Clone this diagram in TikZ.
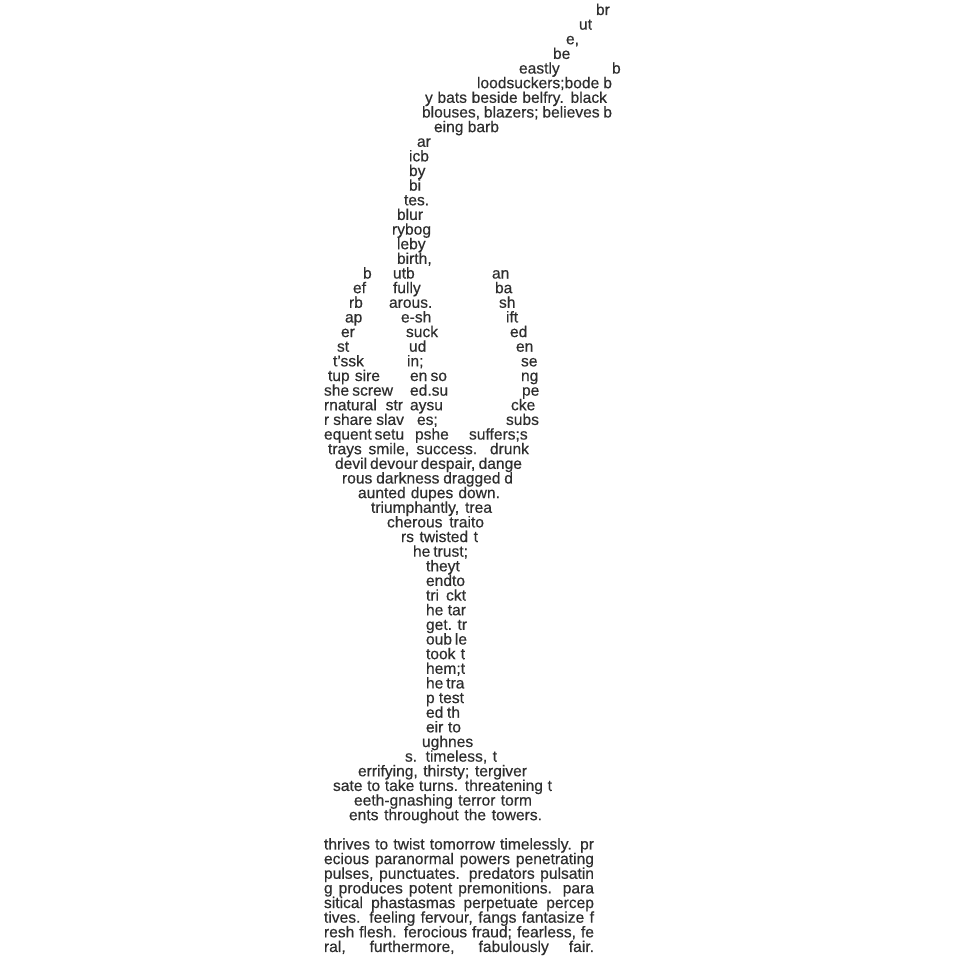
\documentclass[tikz,border=0pt]{standalone}
\usepackage{fontspec}
\setmainfont{Liberation Sans}
\newfontfamily\poemfont{Liberation Sans}[FakeBold=0.4]
\newcommand\pseg[3]{\node[txt] (s#1x#2) at (#2,{15+14.64*(#1-1)}) {#3};}
\newcommand\wseg[4]{\node[txt] (s#1x#2) at (#2,{15+14.64*(#1-1)}) {\makebox[#3pt][s]{#4}};}
\begin{document}
\begin{tikzpicture}[x=1pt,y=-1pt,
  txt/.style={anchor=base west, inner sep=0pt, outer sep=0pt,
    font=\poemfont\fontsize{15.6}{15}\selectfont, text=black!82}]
\fill[white] (0,0) rectangle (960,960);
\useasboundingbox (0,0) rectangle (960,960);
\pseg{1}{596}{br}
\pseg{2}{579}{ut}
\pseg{3}{566}{e,}
\pseg{4}{553}{be}
\pseg{5}{519}{eastly}
\pseg{5}{612}{b}
\wseg{6}{477}{135}{loodsuckers;bode b}
\wseg{7}{425}{182}{y bats beside belfry. black}
\wseg{8}{422}{190}{blouses, blazers; believes b}
\wseg{9}{434}{65}{eing barb}
\pseg{10}{417}{ar}
\pseg{11}{409}{icb}
\pseg{12}{409}{by}
\pseg{13}{409}{bi}
\pseg{14}{404}{tes.}
\pseg{15}{397}{blur}
\pseg{16}{392}{rybog}
\pseg{17}{397}{leby}
\pseg{18}{397}{birth,}
\pseg{19}{363}{b}
\pseg{19}{393}{utb}
\pseg{19}{492}{an}
\pseg{20}{353}{ef}
\pseg{20}{393}{fully}
\pseg{20}{495}{ba}
\pseg{21}{349}{rb}
\pseg{21}{389}{arous.}
\pseg{21}{499}{sh}
\pseg{22}{345}{ap}
\pseg{22}{401}{e-sh}
\pseg{22}{506}{ift}
\pseg{23}{341}{er}
\pseg{23}{406}{suck}
\pseg{23}{510}{ed}
\pseg{24}{337}{st}
\pseg{24}{409}{ud}
\pseg{24}{516}{en}
\pseg{25}{333}{t’ssk}
\pseg{25}{407}{in;}
\pseg{25}{521}{se}
\wseg{26}{328}{52}{tup sire}
\wseg{26}{410}{37}{en so}
\pseg{26}{521}{ng}
\wseg{27}{324}{69}{she screw}
\pseg{27}{410}{ed.su}
\pseg{27}{522}{pe}
\wseg{28}{324}{79}{rnatural str}
\pseg{28}{410}{aysu}
\pseg{28}{511}{cke}
\wseg{29}{324}{80}{r share slav}
\pseg{29}{417}{es;}
\pseg{29}{506}{subs}
\wseg{30}{324}{76}{equent setu}
\pseg{30}{415}{pshe}
\pseg{30}{469}{suffers;s}
\wseg{31}{328}{201}{trays smile, success. drunk}
\wseg{32}{335}{187}{devil devour despair, dange}
\wseg{33}{342}{171}{rous darkness dragged d}
\wseg{34}{358}{142}{aunted dupes down.}
\wseg{35}{371}{121}{triumphantly, trea}
\wseg{36}{387}{97}{cherous traito}
\wseg{37}{401}{77}{rs twisted t}
\wseg{38}{413}{55}{he trust;}
\pseg{39}{426}{theyt}
\pseg{40}{426}{endto}
\wseg{41}{426}{40}{tri ckt}
\wseg{42}{426}{40}{he tar}
\wseg{43}{426}{41}{get. tr}
\wseg{44}{426}{41}{oub le}
\wseg{45}{426}{39}{took t}
\pseg{46}{426}{hem;t}
\wseg{47}{426}{38}{he tra}
\wseg{48}{426}{38}{p test}
\wseg{49}{426}{34}{ed th}
\wseg{50}{426}{35}{eir to}
\pseg{51}{422}{ughnes}
\wseg{52}{405}{92}{s. timeless, t}
\wseg{53}{358}{169}{errifying, thirsty; tergiver}
\wseg{54}{333}{219}{sate to take turns. threatening t}
\wseg{55}{354}{178}{eeth-gnashing terror torm}
\wseg{56}{349}{193}{ents throughout the towers.}
\wseg{58}{324}{270}{thrives to twist tomorrow timelessly. pr}
\wseg{59}{324}{270}{ecious paranormal powers penetrating}
\wseg{60}{324}{270}{pulses, punctuates. predators pulsatin}
\wseg{61}{324}{270}{g produces potent premonitions. para}
\wseg{62}{324}{270}{sitical phastasmas perpetuate percep}
\wseg{63}{324}{270}{tives. feeling fervour, fangs fantasize f}
\wseg{64}{324}{270}{resh flesh. ferocious fraud; fearless, fe}
\wseg{65}{324}{270}{ral, furthermore, fabulously fair.}
\end{tikzpicture}
\end{document}
